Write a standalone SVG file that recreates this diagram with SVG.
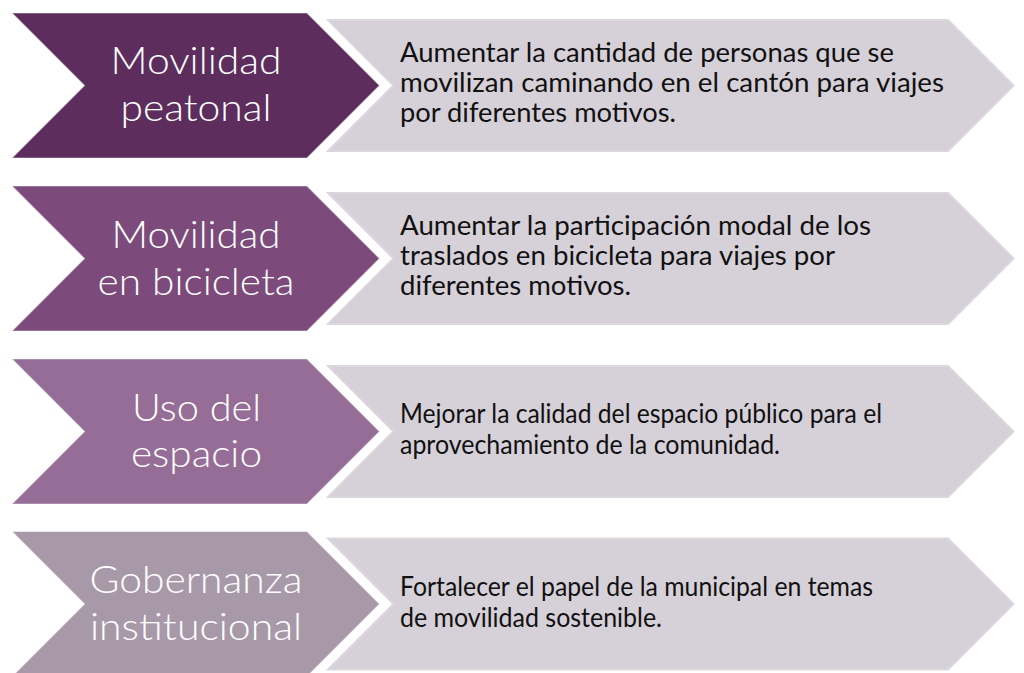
<svg xmlns="http://www.w3.org/2000/svg" xmlns:xlink="http://www.w3.org/1999/xlink" width="1024" height="673" viewBox="0 0 1024 673">
  <style>
    .lc { stroke: #ffffff; stroke-opacity: 0.45; stroke-width: 1.2; }
    .c1 { fill: #5d2d5d; }
    .c2 { fill: #7c4b7c; }
    .c3 { fill: #966d96; }
    .c4 { fill: #a899a9; }
    .rc { fill: #d6d0d8; stroke: #dcd7de; stroke-width: 2; }
    .lt { font-family: Lato, "Open Sans", "Liberation Sans", sans-serif; font-weight: 300; font-size: 37px; fill: #ffffff; text-anchor: middle; }
    .rt { font-family: Lato, "Open Sans", "Liberation Sans", sans-serif; font-size: 26px; fill: #111111; }
  </style>
  <defs>
    <path id="lchev" d="M12,13 H307 L379.5,85.5 L307,158 H12 L84.5,85.5 Z"/>
    <path id="rchev" d="M328,20 H948 L1013.5,85.5 L948,151 H328 L393.5,85.5 Z"/>
  </defs>
  <rect width="1024" height="673" fill="#ffffff"/>

  <!-- Row 1 -->
  <g id="obj-peatonal">
    <use xlink:href="#rchev" href="#rchev" class="rc"/>
    <text class="rt"><tspan x="400" y="62" textLength="494" lengthAdjust="spacingAndGlyphs">Aumentar la cantidad de personas que se</tspan><tspan x="400" y="92" textLength="544" lengthAdjust="spacingAndGlyphs">movilizan caminando en el cantón para viajes</tspan><tspan x="400" y="122" textLength="276" lengthAdjust="spacingAndGlyphs">por diferentes motivos.</tspan></text>
  </g>
  <g id="cat-peatonal">
    <use xlink:href="#lchev" href="#lchev" class="lc c1"/>
    <text class="lt"><tspan x="196" y="74" textLength="171" lengthAdjust="spacingAndGlyphs">Movilidad</tspan><tspan x="196" y="120.7" textLength="151" lengthAdjust="spacingAndGlyphs">peatonal</tspan></text>
  </g>

  <!-- Row 2 -->
  <g id="obj-bicicleta" transform="translate(0,173)">
    <use xlink:href="#rchev" href="#rchev" class="rc"/>
    <text class="rt"><tspan x="400" y="62" textLength="471" lengthAdjust="spacingAndGlyphs">Aumentar la participación modal de los</tspan><tspan x="400" y="92" textLength="435" lengthAdjust="spacingAndGlyphs">traslados en bicicleta para viajes por</tspan><tspan x="400" y="122" textLength="231" lengthAdjust="spacingAndGlyphs">diferentes motivos.</tspan></text>
  </g>
  <g id="cat-bicicleta" transform="translate(0,173)">
    <use xlink:href="#lchev" href="#lchev" class="lc c2"/>
    <text class="lt"><tspan x="196" y="74.5" textLength="169" lengthAdjust="spacingAndGlyphs">Movilidad</tspan><tspan x="196" y="121.5" textLength="197" lengthAdjust="spacingAndGlyphs">en bicicleta</tspan></text>
  </g>

  <!-- Row 3 -->
  <g id="obj-espacio" transform="translate(0,346)">
    <use xlink:href="#rchev" href="#rchev" class="rc"/>
    <text class="rt"><tspan x="400" y="77" textLength="482" lengthAdjust="spacingAndGlyphs">Mejorar la calidad del espacio público para el</tspan><tspan x="400" y="107.5" textLength="380" lengthAdjust="spacingAndGlyphs">aprovechamiento de la comunidad.</tspan></text>
  </g>
  <g id="cat-espacio" transform="translate(0,346)">
    <use xlink:href="#lchev" href="#lchev" class="lc c3"/>
    <text class="lt"><tspan x="196.5" y="74.5" textLength="129" lengthAdjust="spacingAndGlyphs">Uso del</tspan><tspan x="196.5" y="121" textLength="131" lengthAdjust="spacingAndGlyphs">espacio</tspan></text>
  </g>

  <!-- Row 4 -->
  <g id="obj-gobernanza" transform="translate(0,518.5)">
    <use xlink:href="#rchev" href="#rchev" class="rc"/>
    <text class="rt"><tspan x="400" y="77.5" textLength="473" lengthAdjust="spacingAndGlyphs">Fortalecer el papel de la municipal en temas</tspan><tspan x="400" y="108.5" textLength="262" lengthAdjust="spacingAndGlyphs">de movilidad sostenible.</tspan></text>
  </g>
  <g id="cat-gobernanza" transform="translate(0,518.5)">
    <use xlink:href="#lchev" href="#lchev" class="lc c4"/>
    <text class="lt"><tspan x="196" y="74.5" textLength="213" lengthAdjust="spacingAndGlyphs">Gobernanza</tspan><tspan x="196" y="121" textLength="212" lengthAdjust="spacingAndGlyphs">institucional</tspan></text>
  </g>
</svg>
